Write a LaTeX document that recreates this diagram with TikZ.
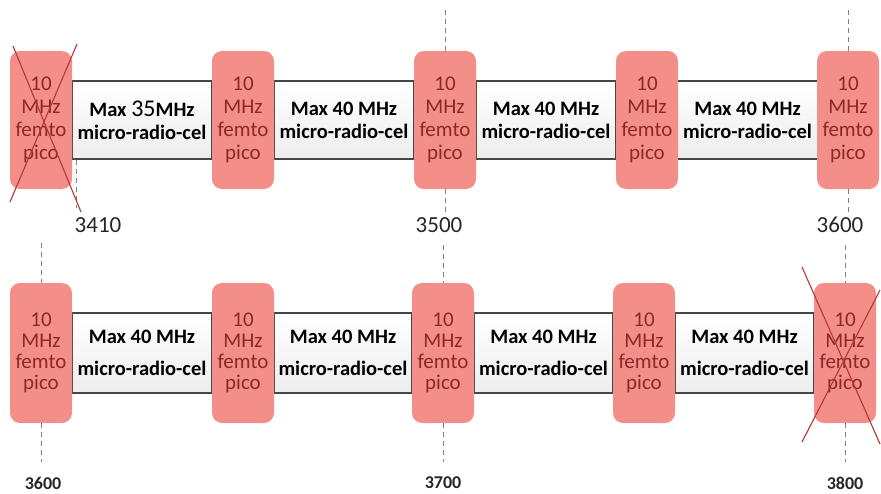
\documentclass[tikz,border=0pt]{standalone}
\usepackage{fontspec}
\setmainfont{Carlito}
\usepackage{tikz}
\usetikzlibrary{calc}
\definecolor{femtofill}{RGB}{244,142,136}
\definecolor{femtotext}{RGB}{140,40,40}
\definecolor{boxline}{RGB}{70,70,70}
\definecolor{strikered}{RGB}{180,55,55}

\begin{document}
\begin{tikzpicture}[x=1pt,y=-1pt,
	femto/.style={fill=femtofill,rounded corners=10pt,minimum width=62pt,minimum height=138pt,inner sep=0pt,align=center,text=femtotext,font=\fontsize{21}{23}\selectfont},
	micro/.style={draw=boxline,line width=1.6pt,top color=white,bottom color=gray!14,minimum width=140pt,minimum height=78pt,inner sep=0pt,align=center,font=\bfseries\fontsize{20.5}{23}\selectfont},
	guide/.style={draw=gray,dash pattern=on 5pt off 4pt,line width=0.9pt},
	strike/.style={draw=strikered,line width=1.1pt},
	freq/.style={font=\fontsize{23}{23}\selectfont,text=black!85},
	freqb/.style={font=\bfseries\fontsize{18}{18}\selectfont,text=black!85}]
			\useasboundingbox (0,0) rectangle (881,493);
			\coordinate (t1) at (41,120);
			\coordinate (t2) at (243,120);
			\coordinate (t3) at (445,120);
			\coordinate (t4) at (647,120);
			\coordinate (t5) at (848,120);
			\coordinate (b1) at (41,353);
			\coordinate (b2) at (243,353);
			\coordinate (b3) at (443,353);
			\coordinate (b4) at (644,353);
			\coordinate (b5) at (845,353);
			\coordinate (g3a) at (445,10);
			\coordinate (g3b) at (445,213);
			\coordinate (g5a) at (848,10);
			\coordinate (g5b) at (848,213);
			\coordinate (g1a) at (76,160);
			\coordinate (g1b) at (76,208);
			\coordinate (h1a) at (41,243);
			\coordinate (h1b) at (41,462);
			\coordinate (h3a) at (443,245);
			\coordinate (h3b) at (443,462);
			\coordinate (h5a) at (845,245);
			\coordinate (h5b) at (845,462);
			
			% micro-radio-cel boxes (between the femto blocks)
			\node (mt1) at ($(t1)!0.5!(t2)$) [micro] {Max {\mdseries\fontsize{24}{23}\selectfont 35}MHz\\micro-radio-cel};
			\node (mt2) at ($(t2)!0.5!(t3)$) [micro] {Max 40 MHz\\micro-radio-cel};
			\node (mt3) at ($(t3)!0.5!(t4)$) [micro] {Max 40 MHz\\micro-radio-cel};
			\node (mt4) at ($(t4)!0.5!(t5)$) [micro] {Max 40 MHz\\micro-radio-cel};
			\node (mb1) at ($(b1)!0.5!(b2)$) [micro,minimum width=139pt,minimum height=80pt,font=\bfseries\fontsize{20.5}{32}\selectfont] {Max 40 MHz\\micro-radio-cel};
			\node (mb2) at ($(b2)!0.5!(b3)$) [micro,minimum width=138pt,minimum height=80pt,font=\bfseries\fontsize{20.5}{32}\selectfont] {Max 40 MHz\\micro-radio-cel};
			\node (mb3) at ($(b3)!0.5!(b4)$) [micro,minimum width=139pt,minimum height=80pt,font=\bfseries\fontsize{20.5}{32}\selectfont] {Max 40 MHz\\micro-radio-cel};
			\node (mb4) at ($(b4)!0.5!(b5)$) [micro,minimum width=139pt,minimum height=80pt,font=\bfseries\fontsize{20.5}{32}\selectfont] {Max 40 MHz\\micro-radio-cel};
			
			% femto/pico blocks
			\node (ft1) at (t1) [femto] {10\\MHz\\femto\\pico};
			\node (ft2) at (t2) [femto] {10\\MHz\\femto\\pico};
			\node (ft3) at (t3) [femto] {10\\MHz\\femto\\pico};
			\node (ft4) at (t4) [femto] {10\\MHz\\femto\\pico};
			\node (ft5) at (t5) [femto] {10\\MHz\\femto\\pico};
			\node (fb1) at (b1) [femto,font=\fontsize{21}{21}\selectfont,minimum height=140pt] {10\\MHz\\femto\\pico};
			\node (fb2) at (b2) [femto,font=\fontsize{21}{21}\selectfont,minimum height=140pt] {10\\MHz\\femto\\pico};
			\node (fb3) at (b3) [femto,font=\fontsize{21}{21}\selectfont,minimum height=140pt] {10\\MHz\\femto\\pico};
			\node (fb4) at (b4) [femto,font=\fontsize{21}{21}\selectfont,minimum height=140pt] {10\\MHz\\femto\\pico};
			\node (fb5) at (b5) [femto,font=\fontsize{21}{21}\selectfont,minimum height=140pt] {10\\MHz\\femto\\pico};
			
			% band edges
			\draw[guide] (g3a) -- (ft3.north);
			\draw[guide] (ft3.south) -- (g3b);
			\draw[guide] (g5a) -- (ft5.north);
			\draw[guide] (ft5.south) -- (g5b);
			\draw[guide] (g1a) -- (g1b);
			\draw[guide] (h1a) -- (fb1.north);
			\draw[guide] (fb1.south) -- (h1b);
			\draw[guide] (h3a) -- (fb3.north);
			\draw[guide] (fb3.south) -- (h3b);
			\draw[guide] (h5a) -- (fb5.north);
			\draw[guide] (fb5.south) -- (h5b);
			
			\node (lt1) at (98,225) [freq] {3410};
			\node (lt3) at (439,225) [freq] {3500};
			\node (lt5) at (840,225) [freq] {3600};
			\node (lb1) at (43,483) [freqb] {3600};
			\node (lb3) at (443,483) [freqb] {3700};
			\node (lb5) at (845,483) [freqb] {3800};
			
			% struck out blocks
			\draw[strike] (13,46) -- (81,212);
			\draw[strike] (77,44) -- (10,202);
			\draw[strike] (802,267) -- (880,444);
			\draw[strike] (880,290) -- (802,442);
\end{tikzpicture}
\end{document}
